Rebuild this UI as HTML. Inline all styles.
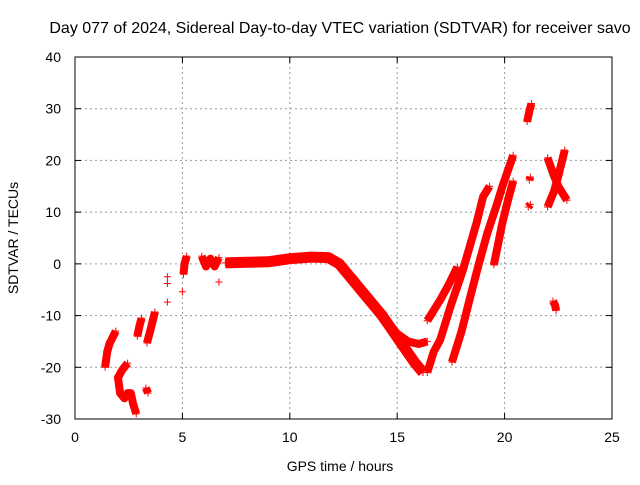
<!DOCTYPE html>
<html><head><meta charset="utf-8"><style>
body{margin:0;background:#fff}
svg text{font-family:"Liberation Sans",sans-serif;font-size:14px;fill:#000}
</style></head><body>
<svg width="640" height="480" xmlns="http://www.w3.org/2000/svg">
<text x="340" y="33" text-anchor="middle" style="font-size:16px">Day 077 of 2024, Sidereal Day-to-day VTEC variation (SDTVAR) for receiver savo</text>
<text x="340" y="471" text-anchor="middle">GPS time / hours</text>
<text transform="translate(18,238) rotate(-90)" text-anchor="middle">SDTVAR / TECUs</text>
<g id="grid"></g><g id="marks"></g>
<rect x="75" y="57" width="537" height="362" fill="none" stroke="#000"/>
<g id="ticks"></g>
</svg>
<script>
const xTicks=[0,5,10,15,20,25];
const yTicks=[-30,-20,-10,0,10,20,30,40];
const segA=[[1.4,-20],[1.5,-17],[1.6,-15.5],[1.9,-13]];
const segB=[[2.45,-19.2],[2.2,-20.5],[2.0,-22],[2.1,-25],[2.3,-26],[2.45,-25],[2.6,-25],[2.7,-27],[2.85,-29]];
const segC=[[2.9,-14],[3.0,-12],[3.1,-10.5]];
const segD=[[3.35,-15.3],[3.5,-13],[3.72,-9.3]];
const segE=[[3.3,-24],[3.4,-25]];
const segF=[[5.05,-2],[5.1,0],[5.2,1.5]];
const segG=[[5.9,1.5],[6.1,-0.5],[6.3,1],[6.5,-0.5],[6.7,1.2]];
const segMain=[[7,0.2],[8,0.3],[9,0.4],[10,1],[11,1.3],[11.8,1.2],[12.3,0],[12.8,-2.5],[13.3,-5],[13.8,-7.5],[14.3,-10],[14.8,-13],[15.3,-16],[15.8,-19],[16.2,-21]];
const segMainUpper=[[12.5,-1],[13,-3],[13.5,-6],[14,-8.5],[14.5,-11],[15,-13.5],[15.5,-15],[16,-15.5],[16.4,-15]];
const segR1=[[16.4,-11],[17.0,-7],[17.4,-4],[17.8,-0.6]];
const segR2=[[16.4,-21],[16.7,-17],[17.0,-14.7],[17.5,-8],[18.06,-1.2],[18.7,8],[19.0,13],[19.3,15]];
const segR3=[[17.55,-19],[18.0,-13],[18.4,-6.4],[18.8,0],[19.2,6],[19.6,11],[19.9,15],[20.4,21]];
const segR4=[[19.5,-0.2],[19.9,8],[20.2,13],[20.4,16]];
const segI1=[[21.05,27.5],[21.15,29.5],[21.25,31]];
const segI2=[[21.15,16.2],[21.2,16.8]];
const segI3=[[21.1,11],[21.2,11.5]];
const segX1=[[22.0,20.5],[22.3,17],[22.5,15],[22.9,12.3]];
const segX2=[[22.8,22],[22.5,17],[22.3,14],[22.0,11]];
const segX3=[[22.25,-7.2],[22.35,-8],[22.4,-9]];
const loose=[[4.3,-2.5],[4.3,-3.8],[4.3,-7.4],[5.0,-5.4],[6.7,-3.5]];
const segments=[segA,segB,segC,segD,segE,segF,segG,segMain,segMainUpper,segR1,segR2,segR3,segR4,segI1,segI2,segI3,segX1,segX2,segX3];
const NS="http://www.w3.org/2000/svg";
const X=t=>75+t*(537/25), Y=v=>419-(v+30)*(362/70);
const grid=document.getElementById('grid'),ticks=document.getElementById('ticks'),marks=document.getElementById('marks');
function mk(tag,attrs,parent){const e=document.createElementNS(NS,tag);for(const k in attrs)e.setAttribute(k,attrs[k]);parent.appendChild(e);return e;}
xTicks.forEach(t=>{
 const x=X(t);
 if(t>0&&t<25){const g=mk('line',{x1:x,x2:x,y1:57,y2:419,stroke:'#999','stroke-dasharray':'2,3'},grid);
 
 }
 mk('line',{x1:x,x2:x,y1:419,y2:413,stroke:'#000'},ticks);mk('line',{x1:x,x2:x,y1:57,y2:63,stroke:'#000'},ticks);
 const l=mk('text',{x:x,y:442,'text-anchor':'middle'},ticks);l.textContent=t;
 
 
});
yTicks.forEach(v=>{
 const y=Y(v);
 if(v>-30&&v<40){const g=mk('line',{x1:75,x2:612,y1:y,y2:y,stroke:'#999','stroke-dasharray':'2,3'},grid);
 
 }
 mk('line',{x1:75,x2:81,y1:y,y2:y,stroke:'#000'},ticks);mk('line',{x1:606,x2:612,y1:y,y2:y,stroke:'#000'},ticks);
 const l=mk('text',{x:61,y:y+5,'text-anchor':'end'},ticks);l.textContent=v;
 
 
});
function plus(t,v){const x=X(t),y=Y(v);
 const p=mk('path',{d:`M${x-3.5},${y}h7M${x},${y-3.5}v7`,stroke:'#f00','stroke-width':1},marks);
 
 }
segments.forEach(s=>{
 const w=(s===segMain)?11:8;
 const pl=mk('polyline',{points:s.map(p=>X(p[0])+','+Y(p[1])).join(' '),fill:'none',stroke:'#f00','stroke-width':w,'stroke-linejoin':'round','stroke-linecap':'butt'},marks);
 
 
 s.forEach(p=>plus(p[0],p[1]));
});
loose.forEach(p=>plus(p[0],p[1]));
</script>
</body></html>
